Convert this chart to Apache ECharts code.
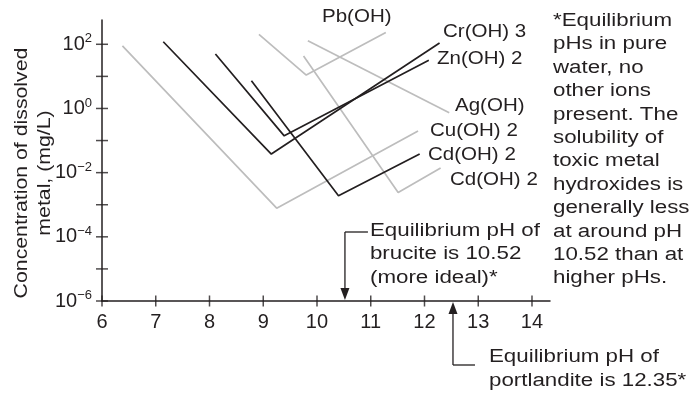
<!DOCTYPE html>
<html><head><meta charset="utf-8">
<script src="https://cdn.jsdelivr.net/npm/echarts@6/dist/echarts.min.js"></script>
<style>html,body{margin:0;padding:0;background:#fff}#c{width:693px;height:397px}</style>
</head><body><div id="c"></div>
<script>
// ---- data (pH, concentration in mg/L) ----
const xTicks = [6, 7, 8, 9, 10, 11, 12, 13, 14];
const yTickExponents = [-6, -5, -4, -3, -2, -1, 0, 1, 2];
const yLabelExponents = [-6, -4, -2, 0, 2];

const cuPH = [6.38, 9.25, 11.88];       const cuConc = [89, 7.8e-4, 0.20];
const crPH = [7.14, 9.15, 12.28];       const crConc = [120, 0.038, 110];
const znPH = [8.11, 9.39, 12.08];       const znConc = [50, 0.14, 32];
const cdBlackPH = [8.78, 10.40, 11.91]; const cdBlackConc = [7.3, 0.0019, 0.038];
const pbPH = [8.92, 9.80, 11.28];       const pbConc = [205, 11, 235];
const agPH = [9.83, 12.46];             const agConc = [130, 0.74];
const cdGrayPH = [9.75, 11.51, 12.30];  const cdGrayConc = [43, 0.0024, 0.014];

const bruciteArrowPH = 10.52;
const portlanditeArrowPH = 12.53;

const lineLabels = ['Pb(OH)', 'Cr(OH) 3', 'Zn(OH) 2', 'Ag(OH)', 'Cu(OH) 2', 'Cd(OH) 2', 'Cd(OH) 2'];
const noteLines = ['*Equilibrium', 'pHs in pure', 'water, no', 'other ions', 'present. The',
  'solubility of', 'toxic metal', 'hydroxides is', 'generally less', 'at around pH',
  '10.52 than at', 'higher pHs.'];
const bruciteText = ['Equilibrium pH of', 'brucite is 10.52', '(more ideal)*'];
const portlanditeText = ['Equilibrium pH of', 'portlandite is 12.35*'];
const yTitle = ['Concentration of dissolved', 'metal, (mg/L)'];

// ---- styling ----
const FONT = 'Liberation Sans';
const INK = '#231f20';
const GRAY = '#bdbdbd';
const font = s => s + 'px "' + FONT + '"';

function pts(ph, conc) { return ph.map((p, i) => [p, Math.log10(conc[i])]); }
function lineSeries(ph, conc, color) {
  return { type: 'line', data: pts(ph, conc), symbol: 'none', silent: true, animation: false,
    lineStyle: { color: color, width: 1.7 }, z: color === INK ? 4 : 3 };
}
const sup = e => (e < 0 ? '\u2212' + (-e) : String(e));

const chart = echarts.init(document.getElementById('c'), null, { renderer: 'canvas' });
const option = {
  animation: false,
  backgroundColor: '#fff',
  grid: { left: 102, right: 143, top: 20, bottom: 96, containLabel: false },
  xAxis: {
    type: 'value', min: 6, max: 14.335, interval: 1,
    axisLine: { onZero: false, lineStyle: { color: INK, width: 1.5 } },
    axisTick: { show: false }, splitLine: { show: false },
    axisLabel: { margin: 11, color: INK, fontSize: 20, fontFamily: FONT,
      formatter: v => (xTicks.includes(v) ? String(v) : '') }
  },
  yAxis: {
    type: 'value', min: -6, max: 2.757, interval: 1,
    axisLine: { show: true, onZero: false, lineStyle: { color: INK, width: 1.5 } },
    axisTick: { show: false }, splitLine: { show: false },
    axisLabel: { margin: 10, color: INK, fontFamily: FONT,
      formatter: v => (yLabelExponents.includes(v) ? '{b|10}{s|' + sup(v) + '}' : ''),
      rich: {
        b: { fontSize: 20, fontFamily: FONT, color: INK, lineHeight: 24 },
        s: { fontSize: 13, fontFamily: FONT, color: INK, verticalAlign: 'top', lineHeight: 24, padding: [0, 0, 9, 0] }
      }
    }
  },
  series: [
    lineSeries(cuPH, cuConc, GRAY),
    lineSeries(pbPH, pbConc, GRAY),
    lineSeries(agPH, agConc, GRAY),
    lineSeries(cdGrayPH, cdGrayConc, GRAY),
    lineSeries(crPH, crConc, INK),
    lineSeries(znPH, znConc, INK),
    lineSeries(cdBlackPH, cdBlackConc, INK),
    { type: 'scatter', silent: true, clip: false, symbol: 'rect', symbolSize: [1.5, 11],
      itemStyle: { color: INK }, z: 6, data: xTicks.map(v => [v, -6]) },
    { type: 'scatter', silent: true, clip: false, symbol: 'rect', symbolSize: [12, 1.5],
      itemStyle: { color: INK }, z: 6, data: yTickExponents.map(e => [6, e]) }
  ]
};
chart.setOption(option);

// ---- annotations placed through the chart's own scales ----
const px = (x, y) => chart.convertToPixel({ gridIndex: 0 }, [x, y]);
const g = [];
const txt = (x, y, text, size, sx) => g.push({ type: 'text', x: x, y: y, scaleX: sx || 1, silent: true,
  style: { text: text, fill: INK, font: font(size), verticalAlign: 'middle', align: 'left' } });
const seg = (a, b) => g.push({ type: 'line', silent: true, shape: { x1: a[0], y1: a[1], x2: b[0], y2: b[1] },
  style: { stroke: INK, lineWidth: 1.3 } });
const head = (tip, dir) => g.push({ type: 'polygon', silent: true,
  shape: { points: [[tip[0], tip[1]], [tip[0] - 4.5, tip[1] - dir * 12], [tip[0] + 4.5, tip[1] - dir * 12]] },
  style: { fill: INK } });

// brucite arrow (down to the axis)
const bTip = px(bruciteArrowPH, -6);
const bTop = [bTip[0], bTip[1] - 69];
seg(bTop, [bTip[0], bTip[1] - 8]);
head([bTip[0], bTip[1] - 1], 1);
seg(bTop, [bTop[0] + 23, bTop[1]]);
bruciteText.forEach((t, i) => txt(bTop[0] + 25, bTop[1] - 1 + i * 23.4, t, 18, 1.24));

// portlandite arrow (up to the axis)
const pTip = px(portlanditeArrowPH, -6);
const pBot = [pTip[0], pTip[1] + 64];
seg(pBot, [pTip[0], pTip[1] + 8]);
head([pTip[0], pTip[1] + 1], -1);
seg(pBot, [pBot[0] + 22, pBot[1]]);
portlanditeText.forEach((t, i) => txt(pBot[0] + 36, pBot[1] - 8 + i * 24, t, 18, 1.24));

// line labels
const labelPos = [[322, 17], [443, 32], [437, 59], [455, 106], [430, 131], [428, 155], [450, 180]];
lineLabels.forEach((t, i) => txt(labelPos[i][0], labelPos[i][1], t, 19, 1.08));

// note on the right
noteLines.forEach((t, i) => txt(553, 21 + i * 23.4, t, 18, 1.24));

// y axis title
g.push({ type: 'text', x: 33, y: 173, rotation: Math.PI / 2, scaleX: 1.12, silent: true,
  style: { text: yTitle.join('\n'), fill: INK, font: font(19), align: 'center', verticalAlign: 'middle', lineHeight: 23 } });

chart.setOption({ graphic: g });
</script>
</body></html>
